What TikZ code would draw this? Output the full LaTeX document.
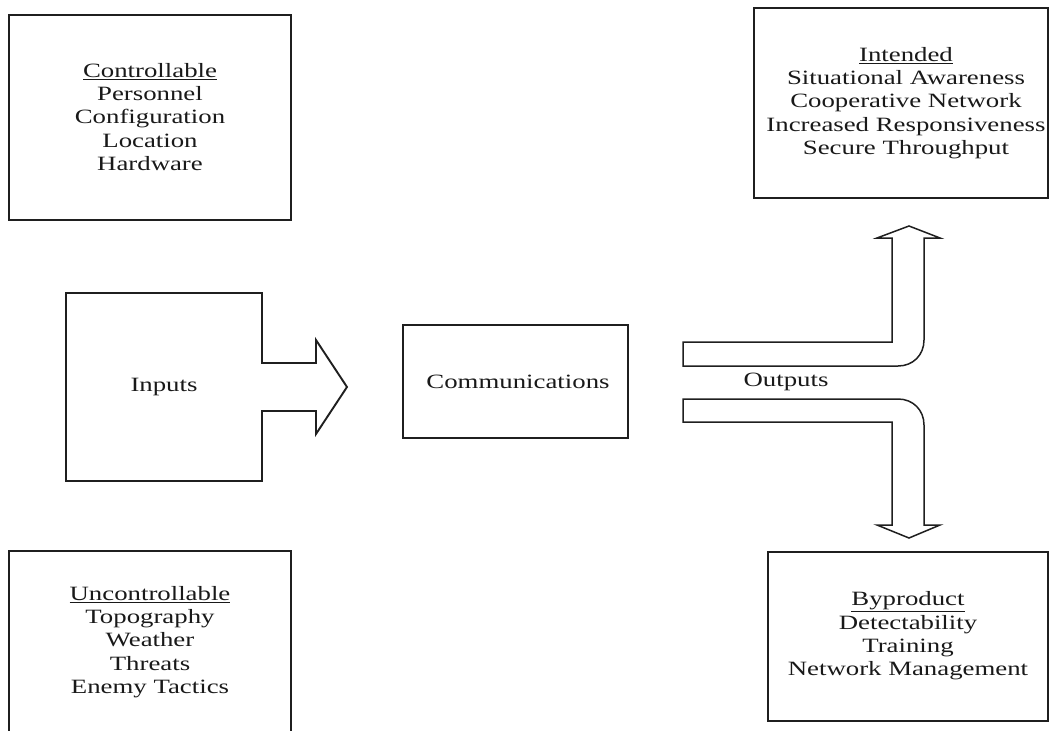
\documentclass[tikz,border=0pt]{standalone}
\usepackage{fontspec}
\setmainfont{Liberation Serif}[FakeStretch=1.32]
\begin{document}
\begin{tikzpicture}[x=1pt,y=-1pt,
  boxline/.style={draw=black!88, line width=1.9pt, line join=miter},
  arrline/.style={draw=black!88, line width=1.5pt, line join=miter},
  txt/.style={align=center, text=black!90, inner sep=0pt,
    font=\fontsize{20.3}{23.3}\selectfont}]
\useasboundingbox (0,0) rectangle (1050,731);
% boxes
\draw[boxline] (9,15) rectangle (291,220);
\draw[boxline] (9,551) rectangle (291,734);
\draw[boxline] (403,325) rectangle (628,438);
\draw[boxline] (754,8) rectangle (1048,198);
\draw[boxline] (768,552) rectangle (1048,721);
% inputs block arrow
\draw[boxline] (66,293) -- (262,293) -- (262,363) -- (316,363) -- (316,340)
  -- (347,387) -- (316,434) -- (316,411) -- (262,411) -- (262,481) -- (66,481) -- cycle;
% upper output arrow
\draw[arrline] (683,342) -- (892,342) -- (892,238) -- (877,238) -- (909,226)
  -- (940,238) -- (924,238) -- (924,340)
  .. controls (924,355) and (913,366) .. (898,366) -- (683,366) -- cycle;
% lower output arrow
\draw[arrline] (683,422) -- (892,422) -- (892,525) -- (877,525) -- (909,538)
  -- (940,525) -- (924,525) -- (924,425)
  .. controls (924,410) and (913,399) .. (898,399) -- (683,399) -- cycle;
% texts
\node[txt] (ctrl) at (150,117) {\underline{Controllable}\\Personnel\\Configuration\\Location\\Hardware};
\node[txt] (unctrl) at (150,642) {\underline{Uncontrollable}\\Topography\\Weather\\Threats\\Enemy Tactics};
\node[txt] (inputs) at (164,387) {Inputs};
\node[txt] (comm) at (518,382) {Communications};
\node[txt] (outputs) at (786,382) {Outputs};
\node[txt] (intended) at (906,103) {\underline{Intended}\\Situational Awareness\\Cooperative Network\\Increased Responsiveness\\Secure Throughput};
\node[txt] (byprod) at (908,636) {\underline{Byproduct}\\Detectability\\Training\\Network Management};
\end{tikzpicture}
\end{document}
